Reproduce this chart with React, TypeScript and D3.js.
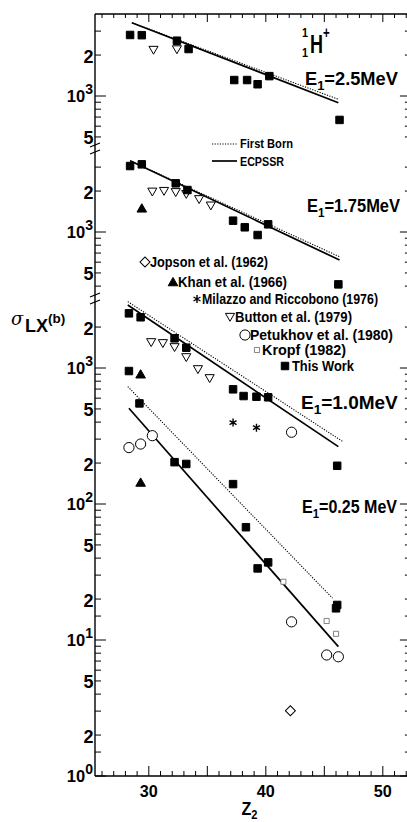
import React from 'react';
import * as d3 from 'd3';

// ---- data (Z2, sigma_LX in barn) ----
// E1 = 2.5 MeV (top panel)
const z25Work = [28.4, 29.4, 32.4, 33.4, 37.3, 38.4, 39.3, 40.3, 46.3];
const s25Work = [2810, 2800, 2550, 2215, 1310, 1310, 1220, 1400, 667];
const z25Button = [30.4, 32.4];
const s25Button = [2180, 2200];
const z25Theory = [28.55, 46.2];
const s25Ecpssr = [3460, 893];
const s25Born = [3460, 946];

// E1 = 1.75 MeV (middle panel)
const z175Work = [28.4, 29.4, 32.3, 33.3, 37.2, 38.2, 39.3, 40.2, 46.2];
const s175Work = [3055, 3145, 2280, 2035, 1211, 1083, 950, 1139, 412];
const z175Button = [30.3, 31.3, 32.3, 33.2, 34.3, 35.3];
const s175Button = [1977, 2000, 1960, 1900, 1740, 1562];
const z175Khan = [29.4];
const s175Khan = [1494];
const z175Theory = [28.4, 46.3];
const s175Ecpssr = [3343, 622];
const s175Born = [3343, 658];

// E1 = 1.0 MeV (lower panel)
const z10Work = [28.3, 29.3, 32.2, 33.2, 37.2, 38.1, 39.2, 40.2, 46.1];
const s10Work = [2523, 2360, 1653, 1410, 697, 622, 615, 609, 191];
const z10Button = [30.2, 31.2, 32.2, 33.2, 34.2, 35.2];
const s10Button = [1545, 1520, 1420, 1198, 978, 840];
const z10Khan = [29.3];
const s10Khan = [900];
const z10Milazzo = [37.2, 39.2];
const s10Milazzo = [397, 364];
const z10Petukhov = [42.2];
const s10Petukhov = [337];
const z10Ecpssr = [28.2, 46.2];
const s10Ecpssr = [2905, 264];
const z10Born = [28.2, 46.6];
const s10Born = [3075, 287];

// E1 = 0.25 MeV (lower panel)
const z025Work = [28.3, 29.2, 32.2, 33.2, 37.2, 38.3, 39.3, 40.2, 46.0, 46.1];
const s025Work = [950, 549, 203, 197, 140, 67.5, 33.6, 37.2, 17.1, 18.1];
const z025Khan = [29.3];
const s025Khan = [144];
const z025Petukhov = [28.3, 29.3, 30.3, 42.2, 45.2, 46.2];
const s025Petukhov = [260, 276, 318, 13.6, 7.76, 7.53];
const z025Kropf = [41.5, 45.2, 46.0];
const s025Kropf = [26.8, 13.8, 11.1];
const z025Jopson = [42.1];
const s025Jopson = [3.02];
const z025Ecpssr = [28.3, 46.2];
const s025Ecpssr = [506, 8.94];
const z025Born = [28.2, 45.7];
const s025Born = [730, 20.3];

// axis ticks
const xTicks = d3.range(26, 53);
const xLabels = [30, 40, 50];
const topTicks = [500, 600, 700, 800, 900, 1000, 2000, 3000];
const midTicks = [400, 500, 600, 700, 800, 900, 1000, 2000, 3000];
const lowTicks = [1, 1.5, 2, 3, 4, 5, 6, 7, 8, 9, 10, 15, 20, 30, 40, 50, 60, 70, 80, 90,
  100, 200, 300, 400, 500, 600, 700, 800, 900, 1000, 2000];
const topLabels = [[2000, '2', ''], [1000, '10', '3'], [500, '5', '']];
const midLabels = [[2000, '2', ''], [1000, '10', '3'], [500, '5', '']];
const lowLabels = [[2000, '2', ''], [1000, '10', '3'], [500, '5', ''], [200, '2', ''],
  [100, '10', '2'], [50, '5', ''], [20, '2', ''], [10, '10', '1'], [5, '5', ''],
  [2, '2', ''], [1, '10', '0']];

const legendKinds = ['diamond', 'triUp', 'star', 'triDown', 'circle', 'openSq', 'square'];
const legendLabels = ['Jopson et al. (1962)', 'Khan et al. (1966)', 'Milazzo and Riccobono (1976)',
  'Button et al. (1979)', 'Petukhov et al. (1980)', 'Kropf (1982)', 'This Work'];

const FONT = "'Liberation Sans', Arial, sans-serif";

const W = 407, H = 822;
const left = 95, top = 14, bottom = 776;
const x = d3.scaleLinear().domain([25.4, 52.4]).range([left, left + 27 * 11.7]);
const right = x(52.4);

// one decade = 136 px; the three panels are the same log scale shifted by a decade
const yLow = d3.scaleLog().domain([1, 1000]).range([bottom, 368]);
const yMid = d3.scaleLog().domain([1000, 10000]).range([232, 96]);
const yTop = d3.scaleLog().domain([1000, 10000]).range([96, -40]);
const panels = [
  { y: yTop, y0: top, y1: 148, ticks: topTicks, labels: topLabels },
  { y: yMid, y0: 148, y1: 299, ticks: midTicks, labels: midLabels },
  { y: yLow, y0: 299, y1: bottom, ticks: lowTicks, labels: lowLabels },
];

const sym = (kind: string) => {
  switch (kind) {
    case 'square': return d3.symbol(d3.symbolSquare, 56)();
    case 'openSq': return d3.symbol(d3.symbolSquare, 26)();
    case 'circle': return d3.symbol(d3.symbolCircle, 82)();
    case 'triUp': return d3.symbol(d3.symbolTriangle, 40)();
    case 'triDown': return d3.symbol(d3.symbolTriangle, 36)();
    case 'diamond': return d3.symbol(d3.symbolSquare, 50)();
    case 'star': return d3.symbol(d3.symbolAsterisk, 45)();
  }
  return '';
};

const Marker = ({ kind, cx, cy }: { kind: string; cx: number; cy: number }) => {
  const rot = kind === 'triDown' ? 180 : kind === 'diamond' ? 45 : 0;
  const filled = kind === 'square' || kind === 'triUp';
  const stroke = kind === 'openSq' ? '#666' : '#000';
  const dy = kind === 'triDown' ? -1 : kind === 'triUp' ? 1 : 0;
  return (
    <path
      d={sym(kind) || ''}
      transform={`translate(${cx},${cy + dy}) rotate(${rot})`}
      fill={filled ? '#000' : '#fff'}
      stroke={stroke}
      strokeWidth={kind === 'star' ? 1.4 : kind === 'openSq' ? 0.8 : 1}
    />
  );
};

const Points = ({ zs, vs, y, kind }: { zs: number[]; vs: number[]; y: any; kind: string }) => (
  <g>
    {zs.map((z, i) => <Marker key={i} kind={kind} cx={x(z)} cy={y(vs[i])} />)}
  </g>
);

const Curve = ({ zs, vs, y, dotted }: { zs: number[]; vs: number[]; y: any; dotted?: boolean }) => {
  const line = d3.line<number>().x((z) => x(z)).y((_, i) => y(vs[i]));
  return (
    <path
      d={line(zs) || ''}
      fill="none"
      stroke="#000"
      strokeWidth={dotted ? 1.1 : 1.7}
      strokeDasharray={dotted ? '1.2,1.4' : undefined}
    />
  );
};

// condensed bold text squeezed to the width it has in the figure
const NText = ({ x: tx, y: ty, w, size, children }: { x: number; y: number; w: number; size: number; children: any }) => (
  <text x={tx} y={ty} textLength={w} lengthAdjust="spacingAndGlyphs"
    fontFamily={FONT} fontWeight="bold" fontSize={size}>{children}</text>
);

// horizontally squeezed bold text (a stand-in for the condensed face of the figure)
const Squeezed = ({ x: tx, y: ty, sx, children }: { x: number; y: number; sx: number; children: any }) => (
  <g transform={`translate(${tx},${ty}) scale(${sx},1)`}>
    <text fontFamily={FONT} fontWeight="bold" fontSize={19}>{children}</text>
  </g>
);

const ELabel = ({ px, py, value, sx }: { px: number; py: number; value: string; sx: number }) => (
  <Squeezed x={px} y={py} sx={sx}>
    E<tspan fontSize={13.5} dy={5}>1</tspan>
    <tspan dy={-5}>{'=' + value}</tspan>
  </Squeezed>
);

export default function App() {
  return (
    <svg width={W} height={H} style={{ position: 'absolute', left: 0, top: 0, background: '#fff' }}>
      <rect width={W} height={H} fill="#fff" />

      {/* frame */}
      <line x1={left} x2={left} y1={top} y2={bottom} stroke="#000" strokeWidth={1.4} />
      <line x1={left} x2={right} y1={bottom} y2={bottom} stroke="#000" strokeWidth={1.4} />
      <line x1={left} x2={right} y1={top} y2={top} stroke="#000" strokeWidth={1.4} />

      {/* x ticks bottom and top */}
      {xTicks.map((t) => (
        <g key={t}>
          <line x1={x(t)} x2={x(t)} y1={bottom} y2={bottom - (t % 5 === 0 ? 10 : 5)} stroke="#000" strokeWidth={1} />
          <line x1={x(t)} x2={x(t)} y1={top} y2={top + (t % 5 === 0 ? 8 : 4)} stroke="#000" strokeWidth={1} />
        </g>
      ))}
      {xLabels.map((t) => (
        <NText key={t} x={x(t) - 9} y={797} w={18} size={17}>{t}</NText>
      ))}
      <Squeezed x={241.5} y={815} sx={0.85}>
        Z<tspan fontSize={13} dy={4}>2</tspan>
      </Squeezed>

      {/* y ticks per panel */}
      {panels.map((p, pi) => (
        <g key={pi}>
          {p.ticks
            .filter((v) => p.y(v) >= p.y0 && p.y(v) <= p.y1)
            .map((v) => {
              const major = Math.abs(Math.log10(v) - Math.round(Math.log10(v))) < 1e-9;
              const len = major ? 11 : 6;
              return (
                <g key={v}>
                  <line x1={left} x2={left + len} y1={p.y(v)} y2={p.y(v)} stroke="#000" strokeWidth={1} />
                  <line x1={right} x2={right - len} y1={p.y(v)} y2={p.y(v)} stroke="#000" strokeWidth={1} />
                </g>
              );
            })}
          {p.labels.map(([v, base, exp]) => {
            const yy = p.y(v as number);
            return exp ? (
              <text key={String(v)} x={93} y={yy + 6} textAnchor="end"
                fontFamily={FONT} fontWeight="bold" fontSize={16.5}>
                {base}
                <tspan fontSize={14} dy={-8}>{exp}</tspan>
              </text>
            ) : (
              <NText key={String(v)} x={83.5} y={yy + 7.5} w={10} size={19}>{base}</NText>
            );
          })}
        </g>
      ))}

      {/* axis breaks */}
      {[145, 152, 295, 302].map((b) => (
        <line key={b} x1={left - 5} x2={left + 5} y1={b + 2} y2={b - 2} stroke="#000" strokeWidth={1.2} />
      ))}

      {/* y title */}
      <text x={11} y={325} fontFamily="'DejaVu Serif', serif" fontStyle="italic" fontSize={18}>σ</text>
      <text x={25} y={332} fontFamily={FONT} fontWeight="bold" fontSize={18}>
        LX<tspan fontSize={13.5} dy={-9}>(b)</tspan>
      </text>

      {/* theory curves */}
      <Curve zs={z25Theory} vs={s25Born} y={yTop} dotted />
      <Curve zs={z25Theory} vs={s25Ecpssr} y={yTop} />
      <Curve zs={z175Theory} vs={s175Born} y={yMid} dotted />
      <Curve zs={z175Theory} vs={s175Ecpssr} y={yMid} />
      <Curve zs={z10Born} vs={s10Born} y={yLow} dotted />
      <Curve zs={z10Ecpssr} vs={s10Ecpssr} y={yLow} />
      <Curve zs={z025Born} vs={s025Born} y={yLow} dotted />
      <Curve zs={z025Ecpssr} vs={s025Ecpssr} y={yLow} />

      {/* experimental points */}
      <Points zs={z25Button} vs={s25Button} y={yTop} kind="triDown" />
      <Points zs={z25Work} vs={s25Work} y={yTop} kind="square" />
      <Points zs={z175Button} vs={s175Button} y={yMid} kind="triDown" />
      <Points zs={z175Khan} vs={s175Khan} y={yMid} kind="triUp" />
      <Points zs={z175Work} vs={s175Work} y={yMid} kind="square" />
      <Points zs={z10Button} vs={s10Button} y={yLow} kind="triDown" />
      <Points zs={z10Khan} vs={s10Khan} y={yLow} kind="triUp" />
      <Points zs={z10Milazzo} vs={s10Milazzo} y={yLow} kind="star" />
      <Points zs={z10Petukhov} vs={s10Petukhov} y={yLow} kind="circle" />
      <Points zs={z10Work} vs={s10Work} y={yLow} kind="square" />
      <Points zs={z025Khan} vs={s025Khan} y={yLow} kind="triUp" />
      <Points zs={z025Petukhov} vs={s025Petukhov} y={yLow} kind="circle" />
      <Points zs={z025Kropf} vs={s025Kropf} y={yLow} kind="openSq" />
      <Points zs={z025Jopson} vs={s025Jopson} y={yLow} kind="diamond" />
      <Points zs={z025Work} vs={s025Work} y={yLow} kind="square" />

      {/* theory legend */}
      <line x1={212} x2={237} y1={144} y2={144} stroke="#000" strokeWidth={1.1} strokeDasharray="1.2,1.4" />
      <NText x={240} y={148} w={53} size={13}>First Born</NText>
      <line x1={212} x2={237} y1={161} y2={161} stroke="#000" strokeWidth={1.7} />
      <NText x={240} y={165.5} w={44} size={13}>ECPSSR</NText>

      {/* data legend */}
      {legendKinds.map((kind, i) => {
        const mx = [145, 173, 197, 230, 245, 257, 285][i];
        const my = [262, 282, 299, 317, 335, 350, 366][i];
        const tx = [150, 178, 202, 235, 250, 262, 292][i];
        const w = [118, 109, 176, 117, 143, 84, 62][i];
        return (
          <g key={kind}>
            <Marker kind={kind} cx={mx} cy={my} />
            <NText x={tx} y={my + 5} w={w} size={14.5}>{legendLabels[i]}</NText>
          </g>
        );
      })}

      {/* energy labels */}
      <ELabel px={305} py={85} value="2.5MeV" sx={0.96} />
      <ELabel px={307} py={212} value="1.75MeV" sx={0.867} />
      <ELabel px={301} py={409} value="1.0MeV" sx={1.0} />
      <ELabel px={302} py={513} value="0.25 MeV" sx={0.844} />

      {/* projectile */}
      <NText x={302} y={36.5} w={6} size={13}>1</NText>
      <NText x={302} y={56.5} w={6} size={13}>1</NText>
      <g transform="translate(310,53) scale(0.72,1)">
        <text fontFamily={FONT} fontWeight="bold" fontSize={25}>
          H<tspan fontSize={16} dy={-15}>+</tspan>
        </text>
      </g>
    </svg>
  );
}
